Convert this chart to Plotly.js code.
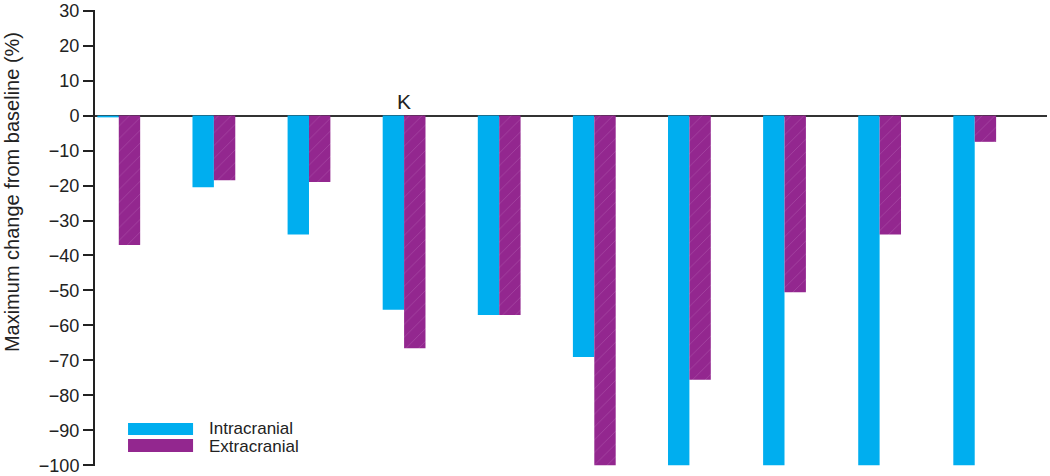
<!DOCTYPE html>
<html>
<head>
<meta charset="utf-8">
<script src="https://cdn.plot.ly/plotly-3.0.1.min.js"></script>
<style>
  html, body { margin: 0; padding: 0; background: #fff; }
  #chart { width: 1050px; height: 476px; }
</style>
</head>
<body>
<div id="chart"></div>
<script>
// Patients (one group of bars each)
const patients = [0, 1, 2, 3, 4, 5, 6, 7, 8, 9];

// Maximum change from baseline (%)
const intracranial = [-0.5, -20.5, -34, -55.5, -57, -69, -100, -100, -100, -100];
const extracranial = [-37, -18.5, -19, -66.5, -57, -100, -75.5, -50.5, -34, -7.5];

const yTicks = [30, 20, 10, 0, -10, -20, -30, -40, -50, -60, -70, -80, -90, -100];

const blue = '#00AEEF';
const purple = '#93278F';
const font = 'Liberation Sans, Arial, sans-serif';

const traces = [
    {
        x: patients,
        y: intracranial,
        type: 'bar',
        name: 'Intracranial',
        marker: { color: blue, line: { width: 0 } },
        hoverinfo: 'y'
    },
    {
        x: patients,
        y: extracranial,
        type: 'bar',
        name: 'Extracranial',
        marker: {
            color: purple,
            line: { width: 0 },
            pattern: { shape: '/', bgcolor: purple, fgcolor: '#a444a0', size: 9, solidity: 0.1 }
        },
        hoverinfo: 'y'
    }
];

const layout = {
    width: 1050,
    height: 476,
    margin: { l: 95, r: 3, t: 10, b: 10 },
    paper_bgcolor: 'white',
    plot_bgcolor: 'white',
    font: { family: font, color: '#222' },
    showlegend: false,
    barmode: 'group',
    bargap: 0.55,
    bargroupgap: 0,
    xaxis: {
        range: [-0.25, 9.76],
        showticklabels: false,
        ticks: '',
        showgrid: false,
        zeroline: false,
        showline: false
    },
    yaxis: {
        range: [-100.2, 30.2],
        tickvals: yTicks,
        ticks: 'outside',
        ticklen: 10,
        tickwidth: 2,
        tickcolor: '#222',
        tickfont: { size: 18, family: font, color: '#222' },
        ticklabeloverflow: 'allow',
        showgrid: false,
        showline: true,
        linecolor: '#222',
        linewidth: 2,
        zeroline: true,
        zerolinecolor: '#333',
        zerolinewidth: 2
    },
    shapes: [
        { type: 'rect', xref: 'paper', yref: 'paper', x0: 0.0347, x1: 0.103, y0: 0.068, y1: 0.0943,
          fillcolor: blue, line: { width: 0 } },
        { type: 'rect', xref: 'paper', yref: 'paper', x0: 0.0347, x1: 0.103, y0: 0.0307, y1: 0.0592,
          fillcolor: purple, line: { width: 0 } }
    ],
    annotations: [
        { text: 'K', x: 3, y: 0, xref: 'x', yref: 'y', yanchor: 'bottom', yshift: 1,
          showarrow: false, font: { size: 21, family: font, color: '#222' } },
        { text: 'Maximum change from baseline (%)', xref: 'paper', yref: 'paper',
          x: -0.087, y: 0.601, xanchor: 'center', yanchor: 'middle', textangle: -90, showarrow: false,
          font: { size: 20, family: font, color: '#222' } },
        { text: 'Intracranial', xref: 'paper', yref: 'paper', x: 0.1176, y: 0.0833,
          xanchor: 'left', yanchor: 'middle', showarrow: false, font: { size: 17, family: font, color: '#222' } },
        { text: 'Extracranial', xref: 'paper', yref: 'paper', x: 0.1176, y: 0.0417,
          xanchor: 'left', yanchor: 'middle', showarrow: false, font: { size: 17, family: font, color: '#222' } }
    ]
};

Plotly.newPlot('chart', traces, layout, { displayModeBar: false, staticPlot: true });
</script>
</body>
</html>
